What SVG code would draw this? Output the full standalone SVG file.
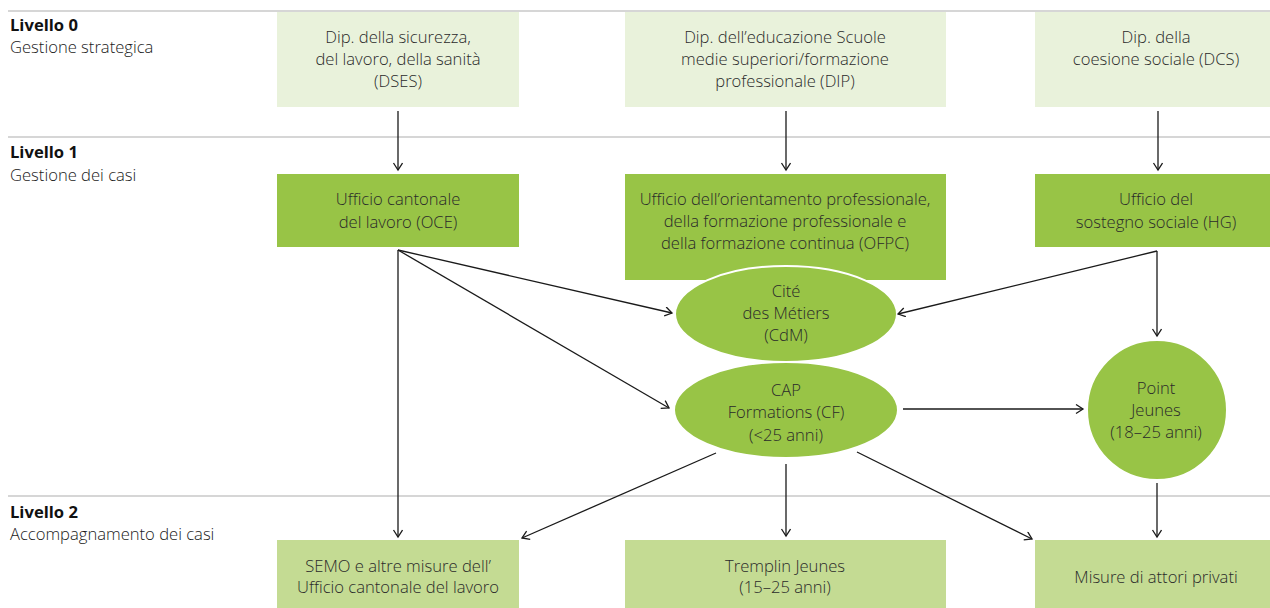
<svg xmlns="http://www.w3.org/2000/svg" width="1270" height="608" viewBox="0 0 1270 608">
<defs>
<marker id="arr" markerUnits="userSpaceOnUse" markerWidth="12" markerHeight="12" refX="8" refY="5" orient="auto">
<path d="M1,0.5 L8,5 L1,9.5" fill="none" stroke="#1a1a1a" stroke-width="1.3"/>
</marker>
<style>
text{font-family:"Open Sans","Noto Sans","Liberation Sans",sans-serif;font-weight:300;font-size:16.6px;fill:#2a2a2a;text-anchor:middle}
.lvl{text-anchor:start;fill:#1a1a1a}
.b{font-weight:700;fill:#111}
.sep{stroke:#c8c8c8;stroke-width:1.5}
.l0{fill:#e9f2db}
.l1{fill:#98c446}
.l2{fill:#c4db93}
.el{fill:#98c446;stroke:#ffffff;stroke-width:2}
#connectors line{stroke:#1a1a1a;stroke-width:1.3;marker-end:url(#arr)}
</style>
</defs>
<rect width="1270" height="608" fill="#ffffff"/>
<g id="separators">
<line class="sep" x1="8" y1="11" x2="1270" y2="11"/>
<line class="sep" x1="8" y1="137" x2="1270" y2="137"/>
<line class="sep" x1="8" y1="496" x2="1270" y2="496"/>
</g>
<g id="levels">
<text class="lvl b" x="10" y="31">Livello 0</text>
<text class="lvl" x="10" y="53">Gestione strategica</text>
<text class="lvl b" x="10" y="158">Livello 1</text>
<text class="lvl" x="10" y="181">Gestione dei casi</text>
<text class="lvl b" x="10" y="518">Livello 2</text>
<text class="lvl" x="10" y="540">Accompagnamento dei casi</text>
</g>
<g id="dses">
<rect class="l0" x="277" y="12" width="242" height="95"/>
<text x="398" y="43">Dip. della sicurezza,</text>
<text x="398" y="65">del lavoro, della sanità</text>
<text x="398" y="87">(DSES)</text>
</g>
<g id="dip">
<rect class="l0" x="625" y="12" width="321" height="95"/>
<text x="785" y="43">Dip. dell’educazione Scuole</text>
<text x="785" y="65">medie superiori/formazione</text>
<text x="785" y="87">professionale (DIP)</text>
</g>
<g id="dcs">
<rect class="l0" x="1035" y="12" width="235" height="95"/>
<text x="1156" y="43">Dip. della</text>
<text x="1156" y="65">coesione sociale (DCS)</text>
</g>
<g id="oce">
<rect class="l1" x="277" y="174" width="242" height="73"/>
<text x="398" y="205">Ufficio cantonale</text>
<text x="398" y="228">del lavoro (OCE)</text>
</g>
<g id="ofpc">
<rect class="l1" x="625" y="174" width="321" height="106"/>
<text x="785" y="205">Ufficio dell’orientamento professionale,</text>
<text x="785" y="227">della formazione professionale e</text>
<text x="785" y="249">della formazione continua (OFPC)</text>
</g>
<g id="hg">
<rect class="l1" x="1035" y="174" width="235" height="73"/>
<text x="1156" y="205">Ufficio del</text>
<text x="1156" y="228">sostegno sociale (HG)</text>
</g>
<g id="cdm">
<ellipse class="el" cx="786" cy="314" rx="111" ry="48"/>
<text x="786" y="297">Cité</text>
<text x="786" y="319">des Métiers</text>
<text x="786" y="341">(CdM)</text>
</g>
<g id="cap">
<ellipse class="el" cx="786" cy="410" rx="112" ry="48"/>
<text x="786" y="396">CAP</text>
<text x="786" y="418">Formations (CF)</text>
<text x="786" y="441">(&lt;25 anni)</text>
</g>
<g id="pointjeunes">
<circle class="el" cx="1157" cy="410" r="70" stroke="none"/>
<text x="1156" y="394">Point</text>
<text x="1156" y="416">Jeunes</text>
<text x="1156" y="438">(18–25 anni)</text>
</g>
<g id="semo">
<rect class="l2" x="277" y="540" width="242" height="68"/>
<text x="398" y="572">SEMO e altre misure dell’</text>
<text x="398" y="593">Ufficio cantonale del lavoro</text>
</g>
<g id="tremplin">
<rect class="l2" x="625" y="540" width="321" height="68"/>
<text x="785" y="572">Tremplin Jeunes</text>
<text x="785" y="593">(15–25 anni)</text>
</g>
<g id="privati">
<rect class="l2" x="1035" y="540" width="235" height="68"/>
<text x="1156" y="583">Misure di attori privati</text>
</g>
<g id="connectors">
<line x1="398" y1="111" x2="398" y2="170"/>
<line x1="786" y1="111" x2="786" y2="170"/>
<line x1="1158" y1="111" x2="1158" y2="170"/>
<line x1="398" y1="250" x2="672" y2="313"/>
<line x1="398" y1="250" x2="669" y2="408"/>
<line x1="398" y1="250" x2="398" y2="537"/>
<line x1="1157" y1="251" x2="898" y2="314"/>
<line x1="1157" y1="251" x2="1157" y2="336"/>
<line x1="903" y1="409" x2="1083" y2="409"/>
<line x1="716" y1="453" x2="522" y2="538"/>
<line x1="786" y1="464" x2="786" y2="536"/>
<line x1="857" y1="452" x2="1032" y2="539"/>
<line x1="1157" y1="483" x2="1157" y2="537"/>
</g>
</svg>
